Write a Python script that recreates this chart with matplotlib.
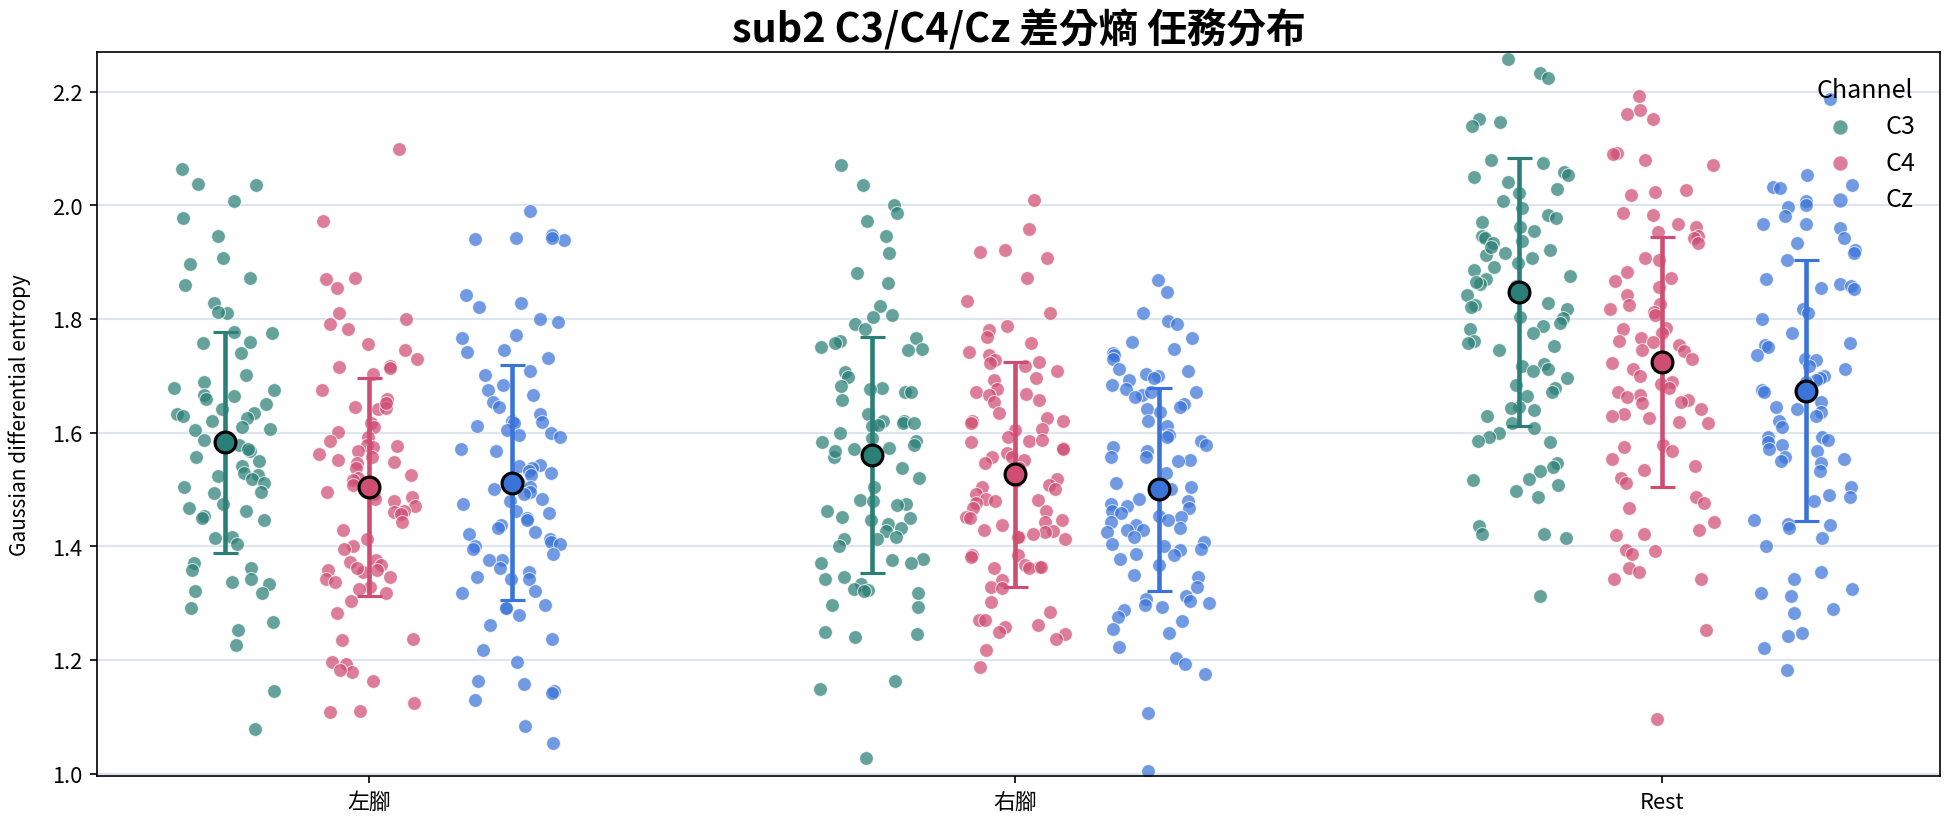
import numpy as np
import matplotlib
matplotlib.use("Agg")
import matplotlib.pyplot as plt

plt.rcParams['font.family'] = ['Noto Sans CJK TC', 'DejaVu Sans']

tasks = ['左腳', '右腳', 'Rest']
channels = ['C3', 'C4', 'Cz']
colors = {'C3': '#2a7f76', 'C4': '#cf4d72', 'Cz': '#3a74d9'}

# values (Gaussian differential entropy per trial)
left_c3 = [2.064, 2.037, 2.036, 2.008, 1.978, 1.946, 1.908, 1.897, 1.872, 1.859,
           1.829, 1.810, 1.812, 1.777, 1.760, 1.775, 1.758, 1.741, 1.702, 1.689,
           1.679, 1.675, 1.667, 1.660, 1.650, 1.665, 1.642, 1.635, 1.633, 1.625,
           1.621, 1.629, 1.610, 1.607, 1.604, 1.579, 1.587, 1.567, 1.571, 1.558,
           1.550, 1.542, 1.529, 1.525, 1.523, 1.518, 1.512, 1.504, 1.496, 1.493,
           1.475, 1.467, 1.462, 1.454, 1.447, 1.450, 1.417, 1.415, 1.404, 1.371,
           1.358, 1.362, 1.342, 1.337, 1.333, 1.321, 1.317, 1.292, 1.267, 1.252,
           1.227, 1.146, 1.079]
left_c4 = [2.100, 1.973, 1.872, 1.871, 1.854, 1.811, 1.800, 1.792, 1.782, 1.756,
           1.746, 1.729, 1.718, 1.715, 1.704, 1.714, 1.675, 1.660, 1.646, 1.642,
           1.643, 1.652, 1.617, 1.610, 1.602, 1.592, 1.585, 1.579, 1.575, 1.577,
           1.568, 1.562, 1.558, 1.552, 1.548, 1.546, 1.537, 1.525, 1.521, 1.517,
           1.508, 1.504, 1.496, 1.492, 1.487, 1.483, 1.479, 1.471, 1.462, 1.460,
           1.456, 1.442, 1.429, 1.412, 1.400, 1.396, 1.375, 1.373, 1.367, 1.358,
           1.358, 1.354, 1.362, 1.346, 1.342, 1.337, 1.329, 1.325, 1.317, 1.304,
           1.283, 1.237, 1.235, 1.196, 1.192, 1.179, 1.183, 1.162, 1.125, 1.108,
           1.110]
left_cz = [1.990, 1.948, 1.939, 1.940, 1.942, 1.943, 1.843, 1.829, 1.821, 1.800,
           1.794, 1.771, 1.767, 1.742, 1.746, 1.732, 1.702, 1.708, 1.683, 1.675,
           1.667, 1.654, 1.646, 1.633, 1.621, 1.618, 1.617, 1.612, 1.604, 1.600,
           1.596, 1.593, 1.571, 1.567, 1.543, 1.537, 1.542, 1.533, 1.529, 1.525,
           1.517, 1.512, 1.504, 1.500, 1.496, 1.492, 1.483, 1.479, 1.475, 1.462,
           1.458, 1.450, 1.446, 1.437, 1.433, 1.425, 1.421, 1.412, 1.408, 1.404,
           1.400, 1.396, 1.387, 1.375, 1.375, 1.362, 1.354, 1.346, 1.342, 1.342,
           1.321, 1.317, 1.296, 1.292, 1.292, 1.279, 1.262, 1.237, 1.217, 1.196,
           1.162, 1.158, 1.146, 1.142, 1.129, 1.083, 1.054]
right_c3 = [2.071, 2.035, 2.000, 1.986, 1.972, 1.946, 1.917, 1.881, 1.864, 1.823,
            1.807, 1.804, 1.792, 1.783, 1.767, 1.762, 1.757, 1.750, 1.746, 1.748,
            1.707, 1.698, 1.682, 1.679, 1.677, 1.671, 1.658, 1.672, 1.633, 1.621,
            1.617, 1.617, 1.612, 1.621, 1.614, 1.600, 1.590, 1.585, 1.579, 1.583,
            1.573, 1.571, 1.558, 1.567, 1.537, 1.521, 1.504, 1.482, 1.479, 1.475,
            1.473, 1.462, 1.452, 1.450, 1.446, 1.440, 1.433, 1.427, 1.417, 1.412,
            1.412, 1.400, 1.377, 1.371, 1.375, 1.371, 1.346, 1.342, 1.333, 1.325,
            1.323, 1.321, 1.317, 1.296, 1.293, 1.250, 1.246, 1.240, 1.162, 1.148,
            1.027]
right_c4 = [2.010, 1.958, 1.908, 1.918, 1.921, 1.873, 1.831, 1.811, 1.787, 1.780,
            1.769, 1.758, 1.742, 1.737, 1.727, 1.723, 1.725, 1.718, 1.708, 1.696,
            1.692, 1.677, 1.672, 1.667, 1.668, 1.657, 1.654, 1.635, 1.625, 1.621,
            1.621, 1.617, 1.606, 1.604, 1.592, 1.585, 1.587, 1.583, 1.573, 1.571,
            1.565, 1.558, 1.557, 1.552, 1.547, 1.537, 1.518, 1.515, 1.508, 1.504,
            1.500, 1.492, 1.483, 1.482, 1.479, 1.477, 1.467, 1.462, 1.452, 1.450,
            1.446, 1.442, 1.437, 1.429, 1.427, 1.425, 1.421, 1.417, 1.417, 1.412,
            1.385, 1.385, 1.382, 1.367, 1.364, 1.362, 1.364, 1.362, 1.340, 1.329,
            1.327, 1.302, 1.285, 1.271, 1.271, 1.262, 1.258, 1.250, 1.246, 1.237,
            1.218, 1.187]
right_cz = [1.868, 1.847, 1.810, 1.796, 1.792, 1.767, 1.760, 1.747, 1.740, 1.736,
            1.729, 1.712, 1.708, 1.704, 1.700, 1.696, 1.693, 1.683, 1.677, 1.671,
            1.667, 1.671, 1.662, 1.650, 1.646, 1.642, 1.637, 1.621, 1.612, 1.596,
            1.592, 1.585, 1.579, 1.575, 1.567, 1.558, 1.557, 1.552, 1.550, 1.529,
            1.512, 1.504, 1.500, 1.483, 1.479, 1.475, 1.471, 1.468, 1.462, 1.458,
            1.454, 1.452, 1.446, 1.442, 1.437, 1.433, 1.429, 1.429, 1.425, 1.417,
            1.408, 1.404, 1.400, 1.396, 1.393, 1.387, 1.385, 1.377, 1.367, 1.350,
            1.346, 1.329, 1.312, 1.308, 1.304, 1.300, 1.296, 1.293, 1.287, 1.275,
            1.268, 1.254, 1.247, 1.223, 1.204, 1.193, 1.175, 1.106, 1.004]
rest_c3 = [2.258, 2.233, 2.225, 2.152, 2.146, 2.140, 2.079, 2.075, 2.058, 2.054,
           2.050, 2.042, 2.029, 2.021, 2.008, 1.983, 1.978, 1.971, 1.962, 1.946,
           1.942, 1.937, 1.933, 1.921, 1.917, 1.912, 1.908, 1.892, 1.887, 1.875,
           1.871, 1.862, 1.858, 1.842, 1.829, 1.825, 1.821, 1.817, 1.804, 1.802,
           1.793, 1.787, 1.783, 1.775, 1.762, 1.758, 1.752, 1.746, 1.720, 1.717,
           1.712, 1.708, 1.696, 1.683, 1.679, 1.671, 1.665, 1.646, 1.643, 1.640,
           1.629, 1.617, 1.608, 1.600, 1.592, 1.585, 1.583, 1.546, 1.540, 1.533,
           1.518, 1.517, 1.507, 1.498, 1.487, 1.435, 1.422, 1.421, 1.415, 1.312,
           1.995, 1.955, 1.926, 1.898, 1.866]
rest_c4 = [2.193, 2.167, 2.160, 2.152, 2.092, 2.090, 2.079, 2.071, 2.027, 2.023,
           2.018, 1.987, 1.983, 1.968, 1.962, 1.954, 1.946, 1.942, 1.933, 1.907,
           1.904, 1.882, 1.873, 1.867, 1.857, 1.843, 1.827, 1.825, 1.817, 1.812,
           1.807, 1.785, 1.782, 1.775, 1.767, 1.762, 1.760, 1.754, 1.746, 1.743,
           1.729, 1.723, 1.712, 1.700, 1.690, 1.685, 1.679, 1.671, 1.667, 1.662,
           1.658, 1.654, 1.652, 1.642, 1.633, 1.629, 1.625, 1.618, 1.617, 1.579,
           1.575, 1.567, 1.554, 1.542, 1.535, 1.521, 1.512, 1.487, 1.477, 1.467,
           1.442, 1.429, 1.421, 1.419, 1.393, 1.392, 1.387, 1.362, 1.354, 1.343,
           1.342, 1.252, 1.096]
rest_cz = [2.187, 2.054, 2.035, 2.033, 2.031, 2.008, 2.000, 1.998, 1.982, 1.968,
           1.967, 1.960, 1.943, 1.933, 1.921, 1.917, 1.904, 1.871, 1.862, 1.858,
           1.854, 1.852, 1.817, 1.810, 1.800, 1.775, 1.758, 1.754, 1.750, 1.737,
           1.729, 1.727, 1.718, 1.712, 1.700, 1.696, 1.692, 1.690, 1.675, 1.671,
           1.654, 1.646, 1.642, 1.637, 1.629, 1.621, 1.610, 1.593, 1.592, 1.587,
           1.583, 1.579, 1.571, 1.567, 1.558, 1.554, 1.550, 1.546, 1.533, 1.504,
           1.490, 1.487, 1.479, 1.446, 1.440, 1.437, 1.433, 1.415, 1.400, 1.354,
           1.342, 1.325, 1.317, 1.312, 1.290, 1.283, 1.248, 1.242, 1.221, 1.183]

# mean and SD markers (rows: tasks, cols: C3/C4/Cz)
means = [[1.583, 1.504, 1.512],
         [1.561, 1.527, 1.500],
         [1.847, 1.724, 1.674]]
sds = [[0.194, 0.192, 0.207],
       [0.208, 0.198, 0.178],
       [0.236, 0.220, 0.229]]

data = {
    ('左腳', 'C3'): left_c3, ('左腳', 'C4'): left_c4, ('左腳', 'Cz'): left_cz,
    ('右腳', 'C3'): right_c3, ('右腳', 'C4'): right_c4, ('右腳', 'Cz'): right_cz,
    ('Rest', 'C3'): rest_c3, ('Rest', 'C4'): rest_c4, ('Rest', 'Cz'): rest_cz,
}

offsets = [-0.222, 0.0, 0.222]
rng = np.random.default_rng(3)  # strip jitter only

fig = plt.figure(figsize=(12.96, 5.513), dpi=150)
ax = fig.add_axes([0.050, 0.060, 0.948, 0.876])

for i, task in enumerate(tasks):
    for j, ch in enumerate(channels):
        y = np.array(data[(task, ch)])
        x = i + offsets[j] + rng.uniform(-0.08, 0.08, len(y))
        ax.scatter(x, y, s=44, color=colors[ch], alpha=0.72, edgecolors='white',
                   linewidths=0.5, zorder=2, label=ch if i == 0 else None)
        ax.errorbar(i + offsets[j], means[i][j], yerr=sds[i][j], fmt='o',
                    color=colors[ch], ecolor=colors[ch], elinewidth=2.2,
                    capsize=6, capthick=1.6, markersize=10,
                    markeredgecolor='black', markeredgewidth=1.5, zorder=4)

ticks = np.arange(1.0, 2.21, 0.2)
ax.set_xticks(range(len(tasks)))
ax.set_xticklabels(tasks)
ax.set_xlim(-0.42, 2.43)
ax.set_ylim(0.995, 2.27)
ax.set_yticks(ticks)
ax.set_yticklabels([f'{v:.1f}' for v in ticks])
ax.tick_params(labelsize=10.5)
ax.yaxis.grid(True, color='#dde5ee', linewidth=1.0, zorder=0)
ax.set_axisbelow(True)
ax.set_ylabel('Gaussian differential entropy', fontsize=10, labelpad=10)
ax.set_title('sub2 C3/C4/Cz 差分熵 任務分布', fontsize=19, fontweight='bold', pad=5)
leg = ax.legend(title='Channel', loc='upper right', frameon=False, fontsize=12,
                title_fontsize=12, handletextpad=0.8, handlelength=2.0,
                labelspacing=0.42, borderaxespad=0.6, markerscale=1.1)
leg.set_zorder(5)

fig.savefig('out.png', dpi=150)
